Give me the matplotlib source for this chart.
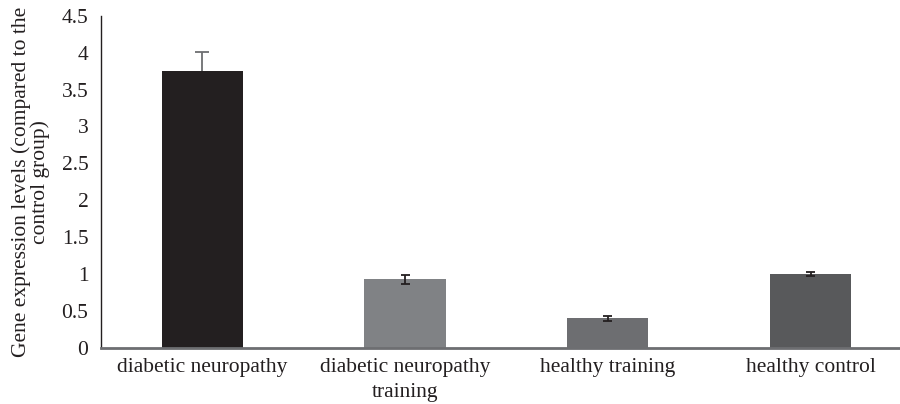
import matplotlib.pyplot as plt

# Group labels, mean expression and error values
groups = ['diabetic neuropathy', 'diabetic neuropathy\ntraining', 'healthy training', 'healthy control']
values = [3.75, 0.93, 0.40, 1.00]
errors_low = [0.0, 0.06, 0.03, 0.03]
errors_high = [0.26, 0.06, 0.03, 0.03]
bar_colors = ['#231f20', '#808285', '#6d6e71', '#58595b']
err_colors = ['#6d6e71', '#231f20', '#231f20', '#231f20']
cap_half = [0.035, 0.022, 0.022, 0.022]

plt.rcParams['font.family'] = ['Liberation Serif', 'DejaVu Serif']

fig = plt.figure(figsize=(9, 4.04), dpi=100)
ax = fig.add_axes([0.112, 0.139, 0.888, 0.822])

x = list(range(len(groups)))
ax.bar(x, values, width=0.40, color=bar_colors, zorder=2)

# error whiskers; a zero-length side gets no cap
for i in x:
    lo = values[i] - errors_low[i]
    hi = values[i] + errors_high[i]
    ax.vlines(i, lo, hi, color=err_colors[i], linewidth=1.3, zorder=3)
    ax.hlines(hi, i - cap_half[i], i + cap_half[i], color=err_colors[i], linewidth=1.3, zorder=3)
    if errors_low[i] > 0:
        ax.hlines(lo, i - cap_half[i], i + cap_half[i], color=err_colors[i], linewidth=1.3, zorder=3)

ax.set_xlim(-0.5, 3.44)
ax.set_ylim(0, 4.5)
ax.set_yticks([0, 0.5, 1, 1.5, 2, 2.5, 3, 3.5, 4, 4.5])
ax.set_yticklabels(['0', '0.5', '1', '1.5', '2', '2.5', '3', '3.5', '4', '4.5'])
ax.set_xticks(x)
ax.set_xticklabels(groups, linespacing=1.45)
ax.tick_params(axis='both', length=0, labelsize=15.5, colors='#231f20')
ax.tick_params(axis='y', pad=9)
ax.tick_params(axis='x', pad=7)

for side in ['top', 'right']:
    ax.spines[side].set_visible(False)
ax.spines['left'].set_color('#231f20')
ax.spines['left'].set_linewidth(1.0)
ax.spines['bottom'].set_color('#6d6e71')
ax.spines['bottom'].set_linewidth(2.0)

ax.set_ylabel('Gene expression levels (compared to the\ncontrol group)', fontsize=15.5,
              color='#231f20', labelpad=8, linespacing=1.0)

fig.savefig('out.png', dpi=100)
